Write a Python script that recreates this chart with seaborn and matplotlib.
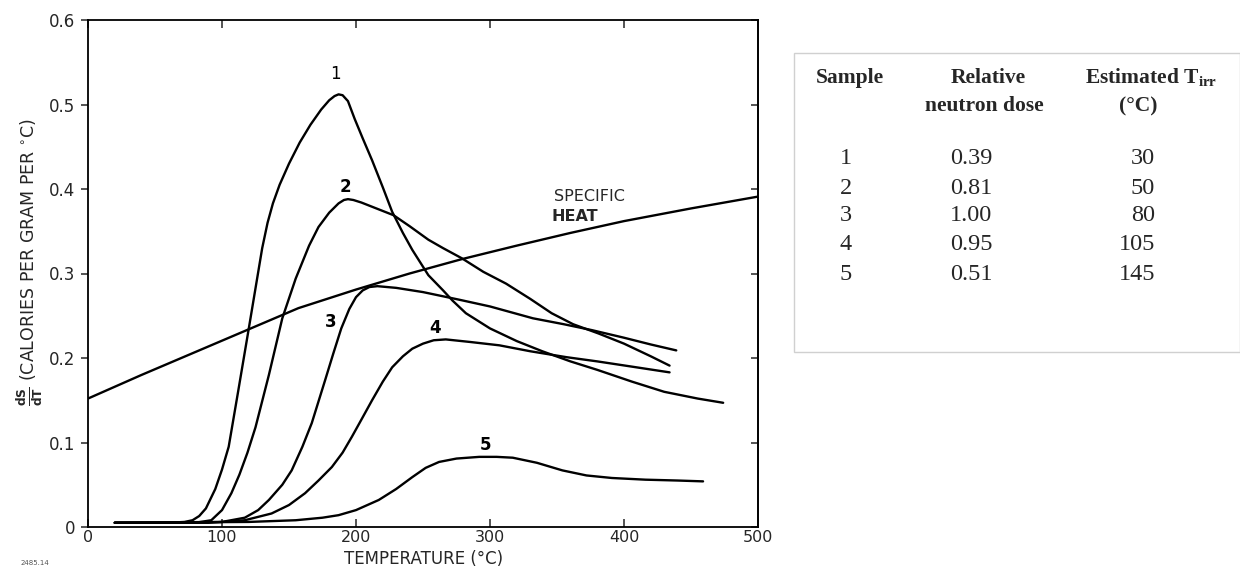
import matplotlib
matplotlib.use("Agg")
import matplotlib.pyplot as plt
import seaborn as sns
from matplotlib.patches import Rectangle

# ---------------- data ----------------
t1 = [20, 60, 72, 78, 83, 88, 95, 100, 105, 112, 120, 126, 130, 134, 138, 143, 150, 158,
      166, 174, 180, 184, 187, 190, 194, 199, 205, 212, 220, 227, 235, 242, 254, 265, 272,
      282, 300, 320, 339, 360, 380, 406, 430, 455, 474]
v1 = [0.005, 0.005, 0.006, 0.008, 0.013, 0.022, 0.045, 0.068, 0.095, 0.160, 0.235, 0.292,
      0.330, 0.360, 0.383, 0.405, 0.430, 0.455, 0.476, 0.494, 0.505, 0.510, 0.512, 0.511,
      0.504, 0.483, 0.460, 0.434, 0.402, 0.373, 0.348, 0.328, 0.298, 0.280, 0.268, 0.253,
      0.235, 0.220, 0.208, 0.196, 0.186, 0.172, 0.160, 0.152, 0.147]

t2 = [20, 80, 92, 100, 107, 113, 119, 125, 135, 145, 155, 165, 172, 180, 187, 191, 194,
      198, 204, 212, 228, 240, 254, 265, 279, 295, 312, 330, 346, 362, 381, 400, 420, 434]
v2 = [0.005, 0.005, 0.008, 0.020, 0.040, 0.062, 0.088, 0.118, 0.180, 0.247, 0.294, 0.333,
      0.355, 0.372, 0.383, 0.387, 0.388, 0.387, 0.384, 0.379, 0.369, 0.356, 0.340, 0.330,
      0.318, 0.302, 0.288, 0.270, 0.253, 0.240, 0.229, 0.217, 0.202, 0.191]

t3 = [20, 90, 100, 117, 127, 135, 145, 152, 160, 167, 177, 183, 189, 195, 200, 205, 210,
      216, 230, 250, 277, 300, 332, 355, 376, 400, 420, 439]
v3 = [0.005, 0.005, 0.006, 0.011, 0.020, 0.032, 0.050, 0.067, 0.095, 0.123, 0.174, 0.205,
      0.235, 0.258, 0.272, 0.280, 0.284, 0.285, 0.283, 0.278, 0.269, 0.261, 0.247, 0.240,
      0.233, 0.224, 0.216, 0.209]

t4 = [20, 100, 117, 137, 150, 162, 172, 182, 190, 197, 204, 212, 220, 227, 235, 242, 250,
      258, 267, 285, 307, 330, 357, 380, 405, 434]
v4 = [0.005, 0.006, 0.008, 0.016, 0.026, 0.040, 0.055, 0.071, 0.088, 0.107, 0.127, 0.150,
      0.172, 0.189, 0.202, 0.211, 0.217, 0.221, 0.222, 0.219, 0.215, 0.208, 0.201, 0.196,
      0.190, 0.183]

t5 = [20, 120, 155, 175, 187, 200, 217, 230, 242, 252, 262, 275, 292, 305, 317, 335, 354,
      372, 391, 416, 440, 459]
v5 = [0.005, 0.006, 0.008, 0.011, 0.014, 0.020, 0.032, 0.045, 0.059, 0.070, 0.077, 0.081,
      0.083, 0.083, 0.082, 0.076, 0.067, 0.061, 0.058, 0.056, 0.055, 0.054]

t_heat = [0, 40, 80, 120, 157, 200, 240, 279, 320, 360, 400, 450, 500]
v_heat = [0.152, 0.180, 0.207, 0.234, 0.259, 0.281, 0.300, 0.317, 0.333, 0.348, 0.362,
          0.377, 0.391]

x_ticks = [0, 100, 200, 300, 400, 500]
y_ticks = [0, 0.1, 0.2, 0.3, 0.4, 0.5, 0.6]
y_ticklabels = ["0", "0.1", "0.2", "0.3", "0.4", "0.5", "0.6"]

samples = ["1", "2", "3", "4", "5"]
doses = ["0.39", "0.81", "1.00", "0.95", "0.51"]
t_irr = ["30", "50", "80", "105", "145"]

# ---------------- figure ----------------
sns.set_style("ticks")
plt.rcParams["font.family"] = ["DejaVu Sans"]
plt.rcParams["mathtext.fontset"] = "dejavusans"

fig = plt.figure(figsize=(12.4, 5.69), dpi=100)
ax = fig.add_axes([88 / 1240, 1 - 527 / 569, (758 - 88) / 1240, (527 - 20) / 569])

for tt, vv in [(t1, v1), (t2, v2), (t3, v3), (t4, v4), (t5, v5), (t_heat, v_heat)]:
    sns.lineplot(x=tt, y=vv, ax=ax, color="black", lw=1.7, estimator=None, sort=False,
                 solid_joinstyle="round", solid_capstyle="round")

ax.set_xlim(0, 500)
ax.set_ylim(0, 0.6)
ax.set_xticks(x_ticks)
ax.set_xticklabels([str(x) for x in x_ticks], fontsize=11.5)
ax.set_yticks(y_ticks)
ax.set_yticklabels(y_ticklabels, fontsize=12)
ax.tick_params(axis="x", direction="in", top=True, length=6, width=1.1, pad=2)
ax.tick_params(axis="y", direction="out", length=5, width=1.1, pad=4)
sec = ax.secondary_yaxis("right")
sec.set_yticks(y_ticks)
sec.set_yticklabels([])
sec.tick_params(direction="in", length=5, width=1.1)
for s in ax.spines.values():
    s.set_linewidth(1.3)
    s.set_color("black")
sec.spines["right"].set_linewidth(1.3)

ax.set_xlabel("")
ax.set_ylabel("")
fig.text(424 / 1240, 1 - 558.5 / 569, "TEMPERATURE (°C)", fontsize=12,
         ha="center", va="center")
fig.text(30 / 1240, 1 - 262 / 569,
         r"$\frac{\mathbf{dS}}{\mathbf{dT}}$ (CALORIES PER GRAM PER $^{\circ}$C)",
         rotation=90, ha="center", va="center", fontsize=12.5)

# curve annotations
lab_kw = dict(fontsize=12, ha="center", va="center", color="black")
ax.text(185, 0.536, "1", **lab_kw)
ax.text(192, 0.402, "2", fontweight="bold", **lab_kw)
ax.text(181, 0.243, "3", fontweight="bold", **lab_kw)
ax.text(259, 0.236, "4", fontweight="bold", **lab_kw)
ax.text(297, 0.097, "5", fontweight="bold", **lab_kw)
ax.text(374, 0.391, "SPECIFIC", fontsize=11.5, ha="center", va="center")
ax.text(346, 0.368, "HEAT", fontsize=11.5, ha="left", va="center", fontweight="bold")

fig.text(35 / 1240, 1 - 563 / 569, "2485.14", fontsize=5, color="#555555",
         ha="center", va="center")

# ---------------- table ----------------
fig.patches.append(Rectangle((794 / 1240, 1 - 352 / 569), (1240 - 794) / 1240, (352 - 53) / 569,
                             transform=fig.transFigure, fill=False, edgecolor="#d0d0d0",
                             lw=1.0))
serif = ["Liberation Serif", "DejaVu Serif"]


def ftxt(px, py, s, **kw):
    fig.text(px / 1240, 1 - py / 569, s, family=serif, **kw)


hdr = dict(fontsize=15.5, fontweight="bold", va="center")
ftxt(850, 78, "Sample", ha="center", **hdr)
ftxt(988, 78, "Relative", ha="center", **hdr)
ftxt(984, 106, "neutron dose", ha="center", **hdr)
ftxt(1151, 78, r"Estimated T$_{\mathregular{irr}}$", ha="center", **hdr)
ftxt(1138, 106, "(°C)", ha="center", **hdr)

row_y = [158, 188, 216, 245, 275]
for yy, s, d, t in zip(row_y, samples, doses, t_irr):
    ftxt(846, yy, s, fontsize=17.5, ha="center", va="center")
    ftxt(950, yy, d, fontsize=17.5, ha="left", va="center")
    ftxt(1155, yy, t, fontsize=17.5, ha="right", va="center")

fig.savefig("out.png", dpi=100)
